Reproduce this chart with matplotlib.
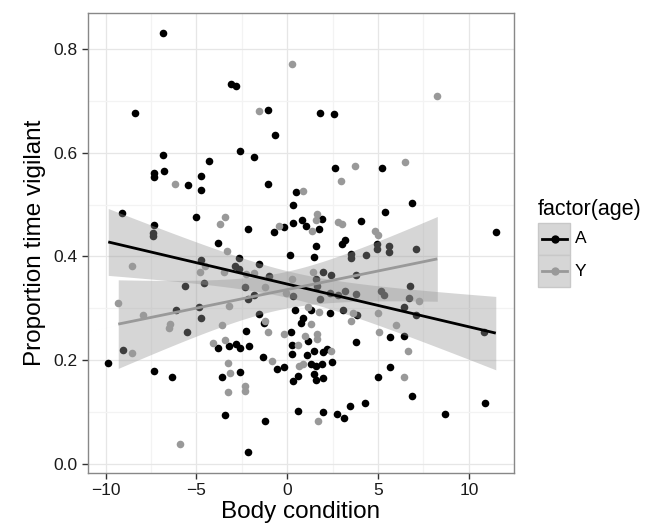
import numpy as np
import matplotlib
matplotlib.use("Agg")
from matplotlib import pyplot as plt
from matplotlib.patches import Rectangle
from matplotlib.lines import Line2D

plt.rcParams['font.family'] = ['Liberation Sans', 'DejaVu Sans']

# body condition / proportion vigilant, adults (A)
a_x = [-6.81, -3.1, -2.8, -8.35, -6.83, -4.30, -1.04, 1.83, 2.57, -0.68,
       -2.6, -1.81, 2.64, 5.2, -7.33, -7.33, -6.8, -5.44, -4.76, -4.76,
       -9.08, -5.0, -7.33, -7.38, -7.38, -3.82, -4.76, -5.6, -4.6, -6.1,
       -4.85, -4.76, -5.5, -9.03, -9.85, -7.33, -6.32, -3.82, -3.2, -3.6,
       -3.43, -1.3, -2.27, 0.2, 0.78, 1.13, -2.82, -2.58, -2.09, 0.26,
       0.29, -1.35, 1.08, 1.5, 1.99, 2.21, 2.45, 3.81, -0.57, -0.16,
       1.3, 1.61, 1.9, 1.48, 0.62, 0.33, 1.61, 1.99, -2.6, 0.57,
       -1.21, 1.99, 2.72, 3.13, 3.44, 4.27, -2.18, 5.68, 6.45, 5.66,
       4.98, 6.87, 8.68, 10.88, 6.87, 5.38, 11.48, 4.95, 4.95, 5.62,
       5.62, 7.1, 5.15, 5.33, 6.74, 6.7, 6.45, 7.1, -1.04, 0.51,
       0.33, 1.9, 0.8, 0.33, -0.16, -0.71, 1.06, 1.76, -2.18, 4.05,
       3.19, 3.04, 1.61, 0.15, 1.47, 3.5, 3.5, 4.32, -2.64, -2.86,
       -2.64, -1.54, -1.0, 1.99, 2.42, 3.78, 1.61, 1.66, -2.32, 0.33,
       -1.81, -2.18, 1.83, 2.36, 2.77, 3.2, 3.78, 3.06, 2.36, -1.54,
       0.45, 0.88, 1.3, 3.83, 10.84]
a_y = [0.830, 0.732, 0.729, 0.676, 0.596, 0.585, 0.683, 0.676, 0.674, 0.634,
       0.604, 0.592, 0.571, 0.571, 0.561, 0.553, 0.565, 0.538, 0.556, 0.528,
       0.483, 0.476, 0.460, 0.445, 0.439, 0.426, 0.394, 0.343, 0.348, 0.296,
       0.302, 0.281, 0.255, 0.220, 0.195, 0.180, 0.167, 0.224, 0.227, 0.167,
       0.094, 0.271, 0.256, 0.254, 0.271, 0.238, 0.231, 0.223, 0.227, 0.229,
       0.212, 0.206, 0.211, 0.218, 0.215, 0.221, 0.197, 0.235, 0.184, 0.186,
       0.192, 0.188, 0.192, 0.173, 0.170, 0.159, 0.162, 0.165, 0.178, 0.102,
       0.083, 0.100, 0.096, 0.089, 0.112, 0.117, 0.023, 0.244, 0.247, 0.186,
       0.167, 0.131, 0.096, 0.117, 0.504, 0.485, 0.447, 0.424, 0.414, 0.420,
       0.408, 0.414, 0.334, 0.326, 0.344, 0.320, 0.302, 0.288, 0.540, 0.524,
       0.500, 0.473, 0.471, 0.465, 0.456, 0.447, 0.458, 0.453, 0.453, 0.468,
       0.432, 0.424, 0.421, 0.402, 0.399, 0.405, 0.397, 0.403, 0.398, 0.381,
       0.375, 0.386, 0.362, 0.371, 0.365, 0.364, 0.357, 0.343, 0.341, 0.323,
       0.325, 0.318, 0.318, 0.330, 0.325, 0.333, 0.328, 0.297, 0.291, 0.290,
       0.296, 0.281, 0.296, 0.288, 0.254]

# young (Y)
y_x = [0.29, -1.54, 3.72, 8.26, 6.48, -6.15, -3.44, -3.71, -3.3, -8.52,
       -4.82, -4.54, -3.48, -9.3, -7.93, -6.5, -6.45, -3.57, -8.52, -4.1,
       -3.44, -3.26, -3.17, -3.26, -5.92, -1.04, -0.2, 1.32, 1.0, 1.66,
       1.66, 0.62, -0.86, 2.4, 3.5, 0.66, 0.88, -2.34, -2.34, 1.72,
       5.99, 5.07, 6.64, 6.45, 4.84, 5.02, 7.25, 4.98, 2.95,
       0.88, 1.66, 1.61, -0.44, 1.35, 2.77, 2.99, -2.27, -1.81, 1.41,
       0.26, -1.21, -0.07, 1.16, 1.76, 3.63, -3.19, -1.21]
y_y = [0.771, 0.680, 0.575, 0.710, 0.583, 0.540, 0.476, 0.463, 0.410, 0.381,
       0.370, 0.381, 0.370, 0.310, 0.288, 0.263, 0.270, 0.267, 0.213, 0.233,
       0.239, 0.194, 0.176, 0.139, 0.038, 0.254, 0.251, 0.270, 0.247, 0.251,
       0.240, 0.229, 0.199, 0.217, 0.276, 0.188, 0.192, 0.150, 0.141, 0.082,
       0.267, 0.254, 0.218, 0.168, 0.450, 0.441, 0.314, 0.291, 0.546,
       0.527, 0.481, 0.471, 0.458, 0.450, 0.467, 0.463, 0.366, 0.368, 0.370,
       0.357, 0.341, 0.330, 0.302, 0.292, 0.291, 0.304, 0.275]

groups = ['A', 'Y']
colors = {'A': '#000000', 'Y': '#999999'}
data = {'A': (a_x, a_y), 'Y': (y_x, y_y)}


def t95(df):
    z = 1.959964
    return z + (z**3 + z) / (4 * df) + (5 * z**5 + 16 * z**3 + 3 * z) / (96 * df**2)


def smooth(x, y):
    x = np.asarray(x); y = np.asarray(y)
    n = len(x)
    b, a = np.polyfit(x, y, 1)
    xs = np.linspace(x.min(), x.max(), 80)
    fit = a + b * xs
    resid = y - (a + b * x)
    s = np.sqrt(np.sum(resid**2) / (n - 2))
    se = s * np.sqrt(1 / n + (xs - x.mean())**2 / np.sum((x - x.mean())**2))
    t = t95(n - 2)
    return xs, fit, fit - t * se, fit + t * se


fig = plt.figure(figsize=(6.61, 5.26), dpi=100)
ax = fig.add_axes([0.1327, 0.1002, 0.6454, 0.8757])

for g in groups:
    gx, gy = data[g]
    ax.scatter(gx, gy, s=30, color=colors[g], linewidths=0, zorder=3)

for g in groups:
    gx, gy = data[g]
    xs, fit, lo, hi = smooth(gx, gy)
    ax.fill_between(xs, lo, hi, color='#999999', alpha=0.4, linewidth=0, zorder=4)
    ax.plot(xs, fit, color=colors[g], lw=2.0, zorder=5, solid_capstyle='butt')

ax.set_xlim(-10.98, 12.49)
ax.set_ylim(-0.018, 0.870)
ax.set_xticks([-10, -5, 0, 5, 10])
ax.set_yticks([0.0, 0.2, 0.4, 0.6, 0.8])
ax.set_xticks([-7.5, -2.5, 2.5, 7.5, 12.5], minor=True)
ax.set_yticks([0.1, 0.3, 0.5, 0.7], minor=True)
ax.grid(which='major', color='#e6e6e6', lw=0.9, zorder=0)
ax.grid(which='minor', color='#f3f3f3', lw=0.9, zorder=0)
ax.set_axisbelow(True)
ax.tick_params(which='minor', length=0)
ax.tick_params(which='major', length=4, width=1, color='#333333',
               labelsize=12.5, labelcolor='#1a1a1a', pad=3)
for sp in ax.spines.values():
    sp.set_color('#888888')
    sp.set_linewidth(1)
ax.set_xlabel('Body condition', fontsize=17.5, labelpad=2)
ax.set_ylabel('Proportion time vigilant', fontsize=17.5, labelpad=6)

# legend, drawn by hand in figure pixels
W, H = 661, 526
fig.text(538 / W, 1 - 215 / H, 'factor(age)', fontsize=15.5, va='baseline', ha='left')
for i, g in enumerate(groups):
    top = 222.7 + i * 32.3
    fig.add_artist(Rectangle((537.7 / W, 1 - (top + 32.3) / H), 32.6 / W, 32.3 / H,
                             transform=fig.transFigure, facecolor='#d6d6d6',
                             edgecolor='#c8c8c8', lw=1))
    yc = 1 - (top + 16.2) / H
    fig.add_artist(Line2D([541.7 / W, 567.3 / W], [yc, yc], transform=fig.transFigure,
                          color=colors[g], lw=2.0))
    fig.add_artist(Line2D([554.5 / W], [yc], transform=fig.transFigure, color=colors[g],
                          marker='o', markersize=6, markeredgewidth=0))
    fig.text(575 / W, yc, g, fontsize=12.5, va='center', ha='left')

fig.savefig('out.png', dpi=100)
